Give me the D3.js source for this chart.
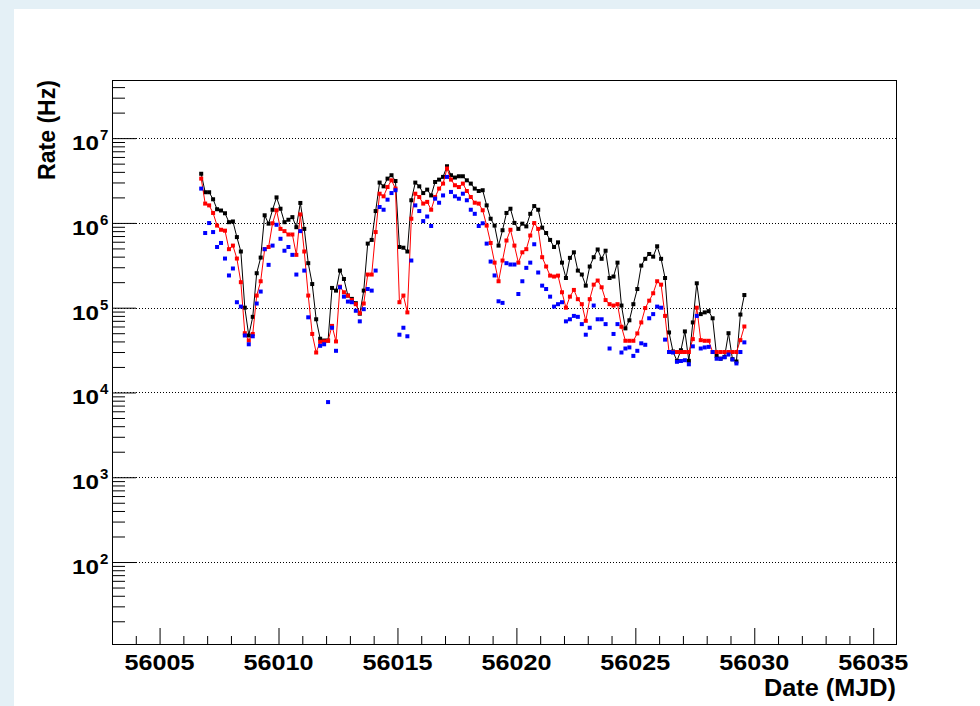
<!DOCTYPE html>
<html>
<head>
<meta charset="utf-8">
<script src="https://cdn.jsdelivr.net/npm/d3@7"></script>
<style>
  body { margin: 0; background: #e4f0f6; }
  svg { display: block; }
  text { font-family: "Liberation Sans", Arial, Helvetica, sans-serif; font-weight: bold; fill: #000; }
</style>
</head>
<body>
<svg id="chart" width="980" height="706"></svg>
<script>
// Observation times (MJD), 4-hour bins
const times = [
  56006.750, 56006.917,
  56007.083, 56007.250, 56007.417, 56007.583, 56007.750, 56007.917,
  56008.083, 56008.250, 56008.417, 56008.583, 56008.750, 56008.917,
  56009.083, 56009.250, 56009.417, 56009.583, 56009.750, 56009.917,
  56010.083, 56010.250, 56010.417, 56010.583, 56010.750, 56010.917,
  56011.083, 56011.250, 56011.417, 56011.583, 56011.750, 56011.917,
  56012.083, 56012.250, 56012.417, 56012.583, 56012.750, 56012.917,
  56013.083, 56013.250, 56013.417, 56013.583, 56013.750, 56013.917,
  56014.083, 56014.250, 56014.417, 56014.583, 56014.750, 56014.917,
  56015.083, 56015.250, 56015.417, 56015.583, 56015.750, 56015.917,
  56016.083, 56016.250, 56016.417, 56016.583, 56016.750, 56016.917,
  56017.083, 56017.250, 56017.417, 56017.583, 56017.750, 56017.917,
  56018.083, 56018.250, 56018.417, 56018.583, 56018.750, 56018.917,
  56019.083, 56019.250, 56019.417, 56019.583, 56019.750, 56019.917,
  56020.083, 56020.250, 56020.417, 56020.583, 56020.750, 56020.917,
  56021.083, 56021.250, 56021.417, 56021.583, 56021.750, 56021.917,
  56022.083, 56022.250, 56022.417, 56022.583, 56022.750, 56022.917,
  56023.083, 56023.250, 56023.417, 56023.583, 56023.750, 56023.917,
  56024.083, 56024.250, 56024.417, 56024.583, 56024.750, 56024.917,
  56025.083, 56025.250, 56025.417, 56025.583, 56025.750, 56025.917,
  56026.083, 56026.250, 56026.417, 56026.583, 56026.750, 56026.917,
  56027.083, 56027.250, 56027.417, 56027.583, 56027.750, 56027.917,
  56028.083, 56028.250, 56028.417, 56028.583, 56028.750, 56028.917,
  56029.083, 56029.250, 56029.417, 56029.583
];

// Rate (Hz), black series (line + markers)
const rateBlack = [
  3.8e6, 2.3e6,
  2.3e6, 1.9e6, 1.45e6, 1.4e6, 1.3e6, 1.02e6,
  1.04e6, 6.8e5, 4.6e5, 1.0e5, 4.7e4, 7.8e4,
  2.55e5, 3.9e5, 1.23e6, 9.8e5, 1.43e6, 2.0e6,
  1.47e6, 1.02e6, 1.09e6, 1.17e6, 8.9e5, 1.72e6,
  8.5e5, 3.35e5, 1.9e5, 7.3e4, 4.3e4, 4.1e4,
  4.1e4, 1.71e5, 1.59e5, 2.74e5, 2.18e5, 1.39e5,
  1.27e5, 1.13e5, 8.5e4, 1.59e5, 5.7e5, 6.3e5,
  1.38e6, 2.99e6, 2.7e6, 3.33e6, 3.65e6, 3.12e6,
  5.2e5, 5.1e5, 4.6e5, 1.85e6, 2.99e6, 2.7e6,
  2.25e6, 2.47e6, 2.11e6, 3.04e6, 3.24e6, 3.49e6,
  4.66e6, 3.65e6, 3.43e6, 3.55e6, 3.55e6, 3.18e6,
  2.91e6, 2.54e6, 2.38e6, 2.43e6, 1.61e6, 1.12e6,
  9.3e5, 5.4e5, 8.2e5, 1.31e6, 1.47e6, 1.0e6,
  8.5e5, 9.8e5, 9.1e5, 1.28e6, 1.58e6, 1.43e6,
  8.8e5, 7.6e5, 6.3e5, 5.2e5, 5.9e5, 3.4e5,
  2.24e5, 3.87e5, 4.5e5, 2.74e5, 2.46e5, 1.82e5,
  3.06e5, 3.94e5, 4.86e5, 3.77e5, 4.7e5, 2.24e5,
  2.33e5, 3.4e5, 1.06e5, 5.7e4, 7.1e4, 1.1e5,
  1.66e5, 3.14e5, 3.77e5, 4.3e5, 4.0e5, 5.3e5,
  3.77e5, 2.24e5, 5.1e4, 3.04e4, 2.36e4, 3.15e4,
  5.25e4, 2.36e4, 6.7e4, 1.94e5, 8.4e4, 8.8e4,
  9.1e4, 7.5e4, 2.7e4, 2.5e4, 2.63e4, 5.0e4,
  2.47e4, 2.32e4, 8.3e4, 1.41e5
];

// Rate (Hz), red series (line + markers)
const rateRed = [
  3.33e6, 1.69e6,
  1.61e6, 1.31e6, 9.3e5, 8.3e5, 8.1e5, 4.9e5,
  5.4e5, 3.8e5, 2.0e5, 5.0e4, 4.1e4, 4.9e4,
  1.39e5, 2.05e5, 4.9e5, 5.2e5, 9.9e5, 1.41e6,
  8.5e5, 8.0e5, 7.3e5, 7.3e5, 4.2e5, 1.26e6,
  4.6e5, 1.39e5, 4.9e4, 2.96e4, 3.96e4, 4.0e4,
  4.07e4, 6.1e4, 4.0e4, 1.77e5, 1.52e5, 1.39e5,
  1.23e5, 1.1e5, 8.6e4, 1.12e5, 2.46e5, 2.46e5,
  7.8e5, 2.21e6, 2.06e6, 2.65e6, 3.18e6, 2.54e6,
  1.16e5, 1.39e5, 8.8e4, 1.12e6, 2.21e6, 2.02e6,
  1.69e6, 1.77e6, 1.43e6, 2.02e6, 2.54e6, 2.91e6,
  4.38e6, 3.24e6, 2.78e6, 2.65e6, 2.91e6, 2.38e6,
  2.02e6, 1.73e6, 1.69e6, 1.41e6, 9.3e5, 5.8e5,
  3.4e5, 2.05e5, 3.6e5, 6.2e5, 8.3e5, 5.4e5,
  3.4e5, 4.5e5, 4.9e5, 7.1e5, 9.96e5, 8.5e5,
  3.94e5, 3.06e5, 2.39e5, 2.33e5, 2.39e5, 1.52e5,
  1.0e5, 1.35e5, 1.62e5, 1.26e5, 1.1e5, 7.0e4,
  1.26e5, 1.87e5, 2.09e5, 1.74e5, 1.23e5, 1.1e5,
  1.06e5, 1.1e5, 5.96e4, 4.07e4, 4.07e4, 4.07e4,
  4.97e4, 6.7e4, 9.9e4, 1.21e5, 1.48e5, 2.05e5,
  1.87e5, 8.0e4, 3.0e4, 3.0e4, 3.0e4, 3.0e4,
  3.0e4, 3.0e4, 4.26e4, 1.0e5, 4.14e4, 4.07e4,
  4.07e4, 3.0e4, 3.0e4, 3.0e4, 3.0e4, 3.0e4,
  3.0e4, 3.0e4, 4.14e4, 6.0e4
];

// Rate (Hz), blue series (markers only; null = no point)
const rateBlue = [
  2.54e6, 7.6e5,
  9.96e5, 7.8e5, 5.2e5, 5.8e5, 3.8e5, 2.4e5,
  2.9e5, 1.16e5, 1.03e5, 4.7e4, 3.7e4, 4.6e4,
  1.12e5, 1.55e5, 4.9e5, 3.2e5, 5.4e5, 9.5e5,
  6.5e5, 4.7e5, 5.2e5, 4.2e5, 2.46e5, 8.0e5,
  2.74e5, 7.7e4, null, null, 3.55e4, 3.7e4,
  7.7e3, 5.8e4, 3.1e4, 1.74e5, 1.35e5, 1.18e5,
  1.16e5, 9.2e4, 6.9e4, 9.6e4, 1.66e5, 1.59e5,
  2.74e5, 1.54e6, 1.43e6, 1.88e6, 2.25e6, 2.43e6,
  4.8e4, 5.8e4, 4.6e4, 3.6e5, 1.61e6, 1.38e6,
  1.05e6, 1.19e6, 9.2e5, 1.93e6, 1.73e6, 2.11e6,
  3.49e6, 2.32e6, 2.06e6, 1.93e6, 2.21e6, 1.85e6,
  1.43e6, 1.28e6, 9.2e5, 9.9e5, 5.7e5, 3.5e5,
  2.4e5, 1.19e5, 1.14e5, 3.35e5, 3.23e5, 3.23e5,
  1.45e5, 2.05e5, 2.95e5, 3.4e5, 5.6e5, 2.6e5,
  1.82e5, 1.66e5, 1.35e5, 1.03e5, 1.1e5, 1.16e5,
  6.9e4, 7.3e4, 8.0e4, 7.8e4, 6.4e4, 4.8e4,
  5.8e4, 1.06e5, 7.3e4, 7.3e4, 6.4e4, 3.3e4,
  4.9e4, 6.4e4, 2.96e4, 3.3e4, 3.4e4, 2.7e4,
  3.1e4, 3.8e4, 3.65e4, 7.5e4, 8.4e4, 1.03e5,
  1.0e5, 4.2e4, 3.0e4, 2.96e4, 2.3e4, 2.35e4,
  2.4e4, 2.15e4, 3.5e4, 8.0e4, 3.3e4, 3.4e4,
  3.45e4, 3.0e4, 2.5e4, 2.5e4, 2.6e4, 2.8e4,
  2.45e4, 2.2e4, 3.0e4, 3.9e4
];

// Axis ticks and labels
const xMajorTicks = [56005, 56010, 56015, 56020, 56025, 56030, 56035];
const xTickLabels = ["56005", "56010", "56015", "56020", "56025", "56030", "56035"];
const yDecadeExponents = [2, 3, 4, 5, 6, 7];
const xTitle = "Date (MJD)";
const yTitle = "Rate (Hz)";

const W = 980, H = 706;
const frame = { left: 112, top: 80, right: 897, bottom: 645 };

const svg = d3.select("#chart");

// Page background: light blue margin with white canvas
svg.append("rect").attr("x", 0).attr("y", 0).attr("width", W).attr("height", H).attr("fill", "#e4f0f6");
svg.append("rect").attr("x", 14).attr("y", 9).attr("width", W - 14).attr("height", H - 9).attr("fill", "#ffffff");

const x = d3.scaleLinear().domain([56003, 56036]).range([frame.left, frame.right]);
const y = d3.scaleLog().domain([10.5, 4.85e7]).range([frame.bottom, frame.top]);

// Log-axis tick values: decades and their 2..9 multiples inside the domain
const [yLo, yHi] = y.domain();
const yMajor = [], yMinor = [];
for (let k = 0; k <= 8; k++) {
  for (let m = 1; m <= 9; m++) {
    const v = m * Math.pow(10, k);
    if (v < yLo || v > yHi) continue;
    (m === 1 ? yMajor : yMinor).push(v);
  }
}
const xMinorTicks = d3.range(56004, 56036).filter(d => !xMajorTicks.includes(d));

// Horizontal dotted grid at each decade
svg.append("g").selectAll("line").data(yMajor).join("line")
  .attr("x1", frame.left).attr("x2", frame.right)
  .attr("y1", d => Math.round(y(d)) + 0.5).attr("y2", d => Math.round(y(d)) + 0.5)
  .attr("stroke", "#000").attr("stroke-width", 1).attr("stroke-dasharray", "1,2");

// Axes (ticks pointing into the frame)
function styleAxis(g) {
  g.select(".domain").remove();
  g.selectAll(".tick line").attr("stroke", "#000").attr("stroke-width", 1);
  g.selectAll(".tick text").remove();
}
svg.append("g").attr("transform", `translate(0,${frame.bottom})`)
  .call(d3.axisBottom(x).tickValues(xMajorTicks).tickSizeInner(-17).tickSizeOuter(0)).call(styleAxis);
svg.append("g").attr("transform", `translate(0,${frame.bottom})`)
  .call(d3.axisBottom(x).tickValues(xMinorTicks).tickSizeInner(-9).tickSizeOuter(0)).call(styleAxis);
svg.append("g").attr("transform", `translate(${frame.left},0)`)
  .call(d3.axisLeft(y).tickValues(yMajor).tickSizeInner(-24).tickSizeOuter(0)).call(styleAxis);
svg.append("g").attr("transform", `translate(${frame.left},0)`)
  .call(d3.axisLeft(y).tickValues(yMinor).tickSizeInner(-13).tickSizeOuter(0)).call(styleAxis);

// Frame
svg.append("rect")
  .attr("x", frame.left + 0.5).attr("y", frame.top + 0.5)
  .attr("width", frame.right - frame.left - 1).attr("height", frame.bottom - frame.top - 1)
  .attr("fill", "none").attr("stroke", "#000").attr("stroke-width", 1);

// X tick labels
svg.append("g").selectAll("text").data(xMajorTicks).join("text")
  .attr("x", d => x(d)).attr("y", 670)
  .attr("text-anchor", "middle").attr("font-size", 22)
  .attr("textLength", 70).attr("lengthAdjust", "spacingAndGlyphs")
  .text((d, i) => xTickLabels[i]);

// Y tick labels: 10 with superscript exponent
const yl = svg.append("g").selectAll("g").data(yDecadeExponents).join("g");
yl.append("text")
  .attr("x", 99).attr("y", k => y(Math.pow(10, k)) + 12)
  .attr("text-anchor", "end").attr("font-size", 21)
  .attr("textLength", 27).attr("lengthAdjust", "spacingAndGlyphs")
  .text("10");
yl.append("text")
  .attr("x", 100).attr("y", k => y(Math.pow(10, k)) + 2)
  .attr("text-anchor", "start").attr("font-size", 15)
  .text(k => String(k));

// Axis titles
svg.append("text")
  .attr("x", 896).attr("y", 696).attr("text-anchor", "end").attr("font-size", 23)
  .attr("textLength", 132).attr("lengthAdjust", "spacingAndGlyphs")
  .text(xTitle);
svg.append("text")
  .attr("transform", "translate(55,80) rotate(-90)")
  .attr("text-anchor", "end").attr("font-size", 23)
  .attr("textLength", 100).attr("lengthAdjust", "spacingAndGlyphs")
  .text(yTitle);

// Data series
const plot = svg.append("g");
function drawSeries(values, color, withLine) {
  const pts = times.map((t, i) => ({ t, v: values[i] })).filter(d => d.v != null);
  if (withLine) {
    plot.append("path").datum(pts)
      .attr("fill", "none").attr("stroke", color).attr("stroke-width", 1)
      .attr("d", d3.line().x(d => x(d.t)).y(d => y(d.v)));
  }
  const s = 4;
  plot.append("g").selectAll("rect").data(pts).join("rect")
    .attr("x", d => x(d.t) - s / 2).attr("y", d => y(d.v) - s / 2)
    .attr("width", s).attr("height", s).attr("fill", color);
}
drawSeries(rateBlack, "#000000", true);
drawSeries(rateRed, "#ff0000", true);
drawSeries(rateBlue, "#0000ff", false);
</script>
</body>
</html>
